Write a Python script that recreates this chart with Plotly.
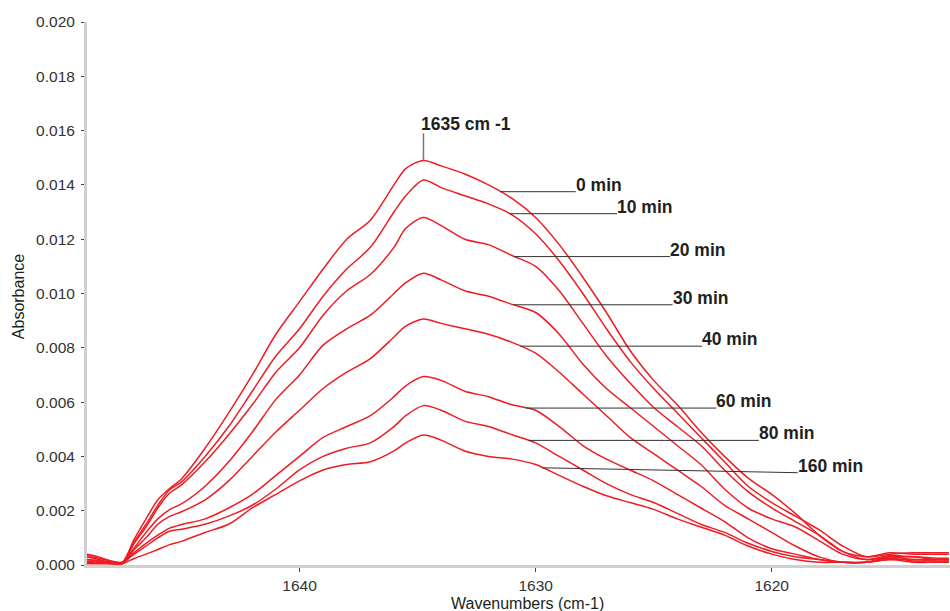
import numpy as np
import plotly.graph_objects as go

# Wavenumber grid (cm-1) shared by all spectra
wavenumber = [1649.0, 1648.5, 1648.0, 1647.5, 1647.0, 1646.5, 1646.0, 1645.5, 1645.0,
              1644.0, 1643.0, 1642.0, 1641.0, 1640.0, 1639.0, 1638.0, 1637.0, 1636.0,
              1635.5, 1634.75, 1634.0, 1633.0, 1632.0, 1631.0, 1630.0, 1629.0, 1628.0,
              1627.0, 1626.0, 1625.0, 1624.0, 1623.0, 1622.0, 1621.0, 1620.0, 1619.0,
              1618.0, 1617.0, 1616.0, 1615.0, 1614.0, 1613.0, 1612.5]

# Absorbance spectra recorded at successive times
abs_0min = [0.00030, 0.00020, 0.00010, 0.00010, 0.00095, 0.00170, 0.00240, 0.00282, 0.00317,
            0.00430, 0.00560, 0.00700, 0.00850, 0.00970, 0.01090, 0.01200, 0.01270, 0.01400,
            0.01460, 0.01490, 0.01470, 0.01440, 0.01400, 0.01350, 0.01280, 0.01180, 0.01060,
            0.00930, 0.00790, 0.00680, 0.00590, 0.00490, 0.00400, 0.00320, 0.00260, 0.00190,
            0.00110, 0.00050, 0.00030, 0.00045, 0.00040, 0.00040, 0.00040]
abs_10min = [0.00040, 0.00030, 0.00015, 0.00010, 0.00085, 0.00150, 0.00220, 0.00277, 0.00306,
             0.00400, 0.00510, 0.00640, 0.00770, 0.00870, 0.00990, 0.01090, 0.01170, 0.01300,
             0.01360, 0.01418, 0.01390, 0.01360, 0.01330, 0.01290, 0.01220, 0.01120, 0.01000,
             0.00870, 0.00750, 0.00650, 0.00560, 0.00470, 0.00380, 0.00290, 0.00230, 0.00180,
             0.00130, 0.00070, 0.00030, 0.00040, 0.00045, 0.00045, 0.00045]
abs_20min = [0.00020, 0.00015, 0.00010, 0.00005, 0.00080, 0.00140, 0.00210, 0.00265, 0.00295,
             0.00380, 0.00480, 0.00590, 0.00710, 0.00800, 0.00920, 0.01010, 0.01070, 0.01170,
             0.01240, 0.01280, 0.01250, 0.01200, 0.01180, 0.01140, 0.01100, 0.01010, 0.00890,
             0.00770, 0.00670, 0.00580, 0.00510, 0.00440, 0.00350, 0.00270, 0.00210, 0.00160,
             0.00110, 0.00050, 0.00020, 0.00030, 0.00030, 0.00025, 0.00025]
abs_30min = [0.00035, 0.00025, 0.00015, 0.00010, 0.00063, 0.00120, 0.00170, 0.00204, 0.00225,
             0.00290, 0.00380, 0.00490, 0.00610, 0.00700, 0.00810, 0.00870, 0.00920, 0.01000,
             0.01040, 0.01075, 0.01050, 0.01010, 0.00990, 0.00960, 0.00930, 0.00850, 0.00740,
             0.00650, 0.00580, 0.00510, 0.00440, 0.00370, 0.00280, 0.00210, 0.00170, 0.00140,
             0.00090, 0.00040, 0.00020, 0.00035, 0.00030, 0.00020, 0.00020]
abs_40min = [0.00010, 0.00010, 0.00005, 0.00005, 0.00057, 0.00100, 0.00150, 0.00179, 0.00196,
             0.00240, 0.00310, 0.00400, 0.00490, 0.00570, 0.00650, 0.00710, 0.00760, 0.00840,
             0.00880, 0.00906, 0.00890, 0.00870, 0.00850, 0.00820, 0.00780, 0.00710, 0.00630,
             0.00550, 0.00470, 0.00410, 0.00350, 0.00290, 0.00220, 0.00170, 0.00120, 0.00070,
             0.00030, 0.00010, 0.00010, 0.00030, 0.00020, 0.00015, 0.00015]
abs_60min = [0.00020, 0.00015, 0.00010, 0.00005, 0.00046, 0.00080, 0.00110, 0.00136, 0.00149,
             0.00170, 0.00210, 0.00260, 0.00330, 0.00400, 0.00470, 0.00510, 0.00550, 0.00620,
             0.00660, 0.00694, 0.00680, 0.00640, 0.00620, 0.00590, 0.00570, 0.00510, 0.00440,
             0.00390, 0.00350, 0.00310, 0.00260, 0.00210, 0.00160, 0.00100, 0.00060, 0.00040,
             0.00020, 0.00010, 0.00010, 0.00020, 0.00010, 0.00010, 0.00010]
abs_80min = [0.00015, 0.00010, 0.00010, 0.00010, 0.00040, 0.00070, 0.00100, 0.00124, 0.00132,
             0.00150, 0.00180, 0.00220, 0.00280, 0.00350, 0.00400, 0.00430, 0.00450, 0.00510,
             0.00550, 0.00587, 0.00570, 0.00530, 0.00510, 0.00480, 0.00450, 0.00400, 0.00350,
             0.00300, 0.00260, 0.00230, 0.00190, 0.00150, 0.00120, 0.00080, 0.00050, 0.00030,
             0.00020, 0.00010, 0.00010, 0.00025, 0.00015, 0.00010, 0.00012]
abs_160min = [0.00005, 0.00005, 0.00005, 0.00005, 0.00024, 0.00040, 0.00057, 0.00075, 0.00087,
              0.00120, 0.00150, 0.00210, 0.00260, 0.00310, 0.00350, 0.00370, 0.00380, 0.00420,
              0.00450, 0.00479, 0.00460, 0.00420, 0.00400, 0.00390, 0.00370, 0.00330, 0.00290,
              0.00255, 0.00230, 0.00205, 0.00170, 0.00140, 0.00110, 0.00070, 0.00040, 0.00020,
              0.00010, 0.00010, 0.00010, 0.00020, 0.00020, 0.00020, 0.00020]

series_names = ["0 min", "10 min", "20 min", "30 min", "40 min", "60 min", "80 min", "160 min"]
series_values = [abs_0min, abs_10min, abs_20min, abs_30min, abs_40min, abs_60min, abs_80min, abs_160min]

# Where each label's leader leaves its curve, and where the label text begins (cm-1)
leader_start = [1631.5, 1631.1, 1630.9, 1630.95, 1630.65, 1630.4, 1630.3, 1629.7]
label_start = [1628.3, 1626.55, 1624.3, 1624.2, 1622.95, 1622.35, 1620.55, 1618.9]
leader_tilt = [0, 0, 0, 0, 0, 0, 0, -0.00018]

peak_label = "1635 cm -1"
x_ticks = [1640, 1630, 1620]

FONT = "Liberation Sans, Arial, sans-serif"
RED = "#ee1c24"
TEXT = "#231f20"

fig = go.Figure()
wn = np.array(wavenumber)
for name, vals in zip(series_names, series_values):
    fig.add_trace(go.Scatter(
        x=wn, y=vals, mode="lines", name=name,
        line=dict(color=RED, width=1.5, shape="spline", smoothing=0.8),
        showlegend=False, hoverinfo="x+y+name"))

# Time labels with horizontal leaders from each curve
asc = wn[::-1]
for name, vals, x0, x1, tilt in zip(series_names, series_values, leader_start, label_start, leader_tilt):
    y0 = float(np.interp(x0, asc, np.array(vals)[::-1]))
    fig.add_shape(type="line", x0=x0, y0=y0, x1=x1, y1=y0 + tilt,
                  line=dict(color="#333333", width=1))
    fig.add_annotation(x=x1, y=y0 + tilt, text="<b>%s</b>" % name, showarrow=False,
                       xanchor="left", yanchor="middle", xshift=-2, yshift=7,
                       font=dict(family=FONT, size=17.5, color=TEXT))

# Peak marker on the first spectrum
top = np.array(abs_0min)
ip = int(np.argmax(top))
px, py = float(wn[ip]), float(top[ip])
fig.add_shape(type="line", x0=px, y0=py, x1=px, y1=py + 0.001,
              line=dict(color="#777777", width=1.5))
fig.add_annotation(x=px, y=py + 0.001, text="<b>%s</b>" % peak_label, showarrow=False,
                   xanchor="left", yanchor="bottom", xshift=-4, yshift=-3,
                   font=dict(family=FONT, size=17.5, color=TEXT))

# Axis titles
fig.add_annotation(xref="paper", yref="paper", x=-0.08, y=0.495, text="Absorbance",
                   textangle=-90, showarrow=False, xanchor="center", yanchor="middle",
                   font=dict(family=FONT, size=16, color=TEXT))
fig.add_annotation(xref="paper", yref="paper", x=0.51, y=-0.07, text="Wavenumbers (cm-1)",
                   showarrow=False, xanchor="center", yanchor="middle",
                   font=dict(family=FONT, size=16, color=TEXT))

fig.update_layout(
    width=950, height=611,
    margin=dict(l=87, r=0, t=22, b=46),
    plot_bgcolor="white", paper_bgcolor="white",
    font=dict(family=FONT, color="#333333"),
    xaxis=dict(range=[1649.0, 1612.45], tickvals=x_ticks, showgrid=False, zeroline=False,
               showline=True, linecolor="#d0d0d0", linewidth=3,
               ticks="outside", ticklen=4, tickcolor="#444444", tickwidth=1,
               tickfont=dict(family=FONT, size=15.5, color="#333333")),
    yaxis=dict(range=[0, 0.020], tick0=0, dtick=0.002, tickformat=".3f", showgrid=False,
               zeroline=False, showline=True, linecolor="#d0d0d0", linewidth=3,
               ticks="outside", ticklen=3, tickcolor="#444444", tickwidth=1,
               ticklabelstandoff=3,
               tickfont=dict(family=FONT, size=15.5, color="#333333")),
)

fig.write_html("out.html")
